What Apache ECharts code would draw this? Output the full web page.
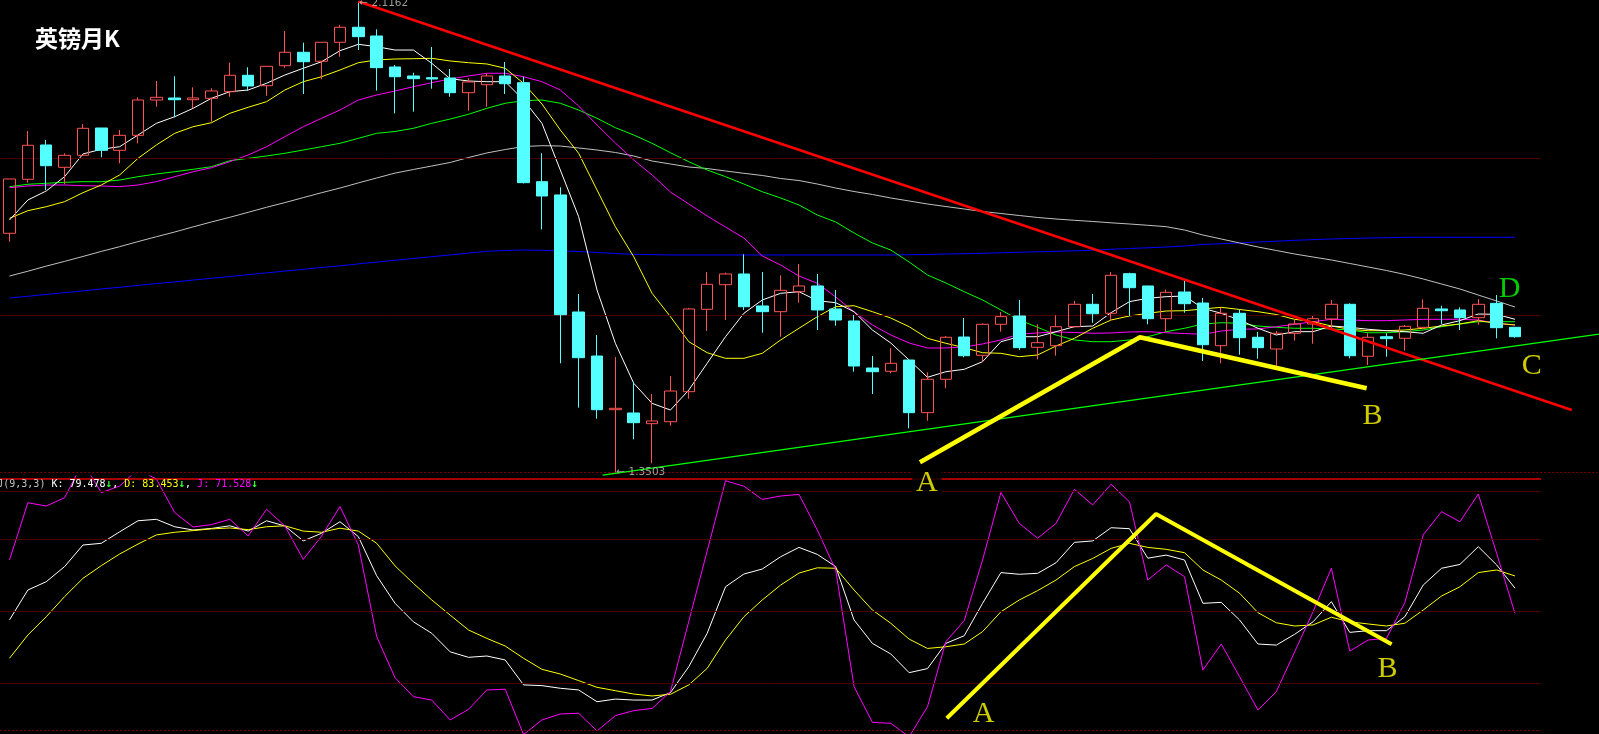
<!DOCTYPE html>
<html><head><meta charset="utf-8">
<script src="https://cdn.jsdelivr.net/npm/echarts@6/dist/echarts.min.js"></script>
<style>html,body{margin:0;padding:0;background:#000;overflow:hidden}#c{width:1599px;height:734px}</style>
</head><body><div id="c"></div>
<script>
// ---------- data ----------
const months = ['2006-04','2006-05','2006-06','2006-07','2006-08','2006-09','2006-10','2006-11','2006-12',
'2007-01','2007-02','2007-03','2007-04','2007-05','2007-06','2007-07','2007-08','2007-09','2007-10','2007-11','2007-12',
'2008-01','2008-02','2008-03','2008-04','2008-05','2008-06','2008-07','2008-08','2008-09','2008-10','2008-11','2008-12',
'2009-01','2009-02','2009-03','2009-04','2009-05','2009-06','2009-07','2009-08','2009-09','2009-10','2009-11','2009-12',
'2010-01','2010-02','2010-03','2010-04','2010-05','2010-06','2010-07','2010-08','2010-09','2010-10','2010-11','2010-12',
'2011-01','2011-02','2011-03','2011-04','2011-05','2011-06','2011-07','2011-08','2011-09','2011-10','2011-11','2011-12',
'2012-01','2012-02','2012-03','2012-04','2012-05','2012-06','2012-07','2012-08','2012-09','2012-10','2012-11','2012-12',
'2013-01','2013-02'];
const futureSlots = ['2013-03','2013-04','2013-05','2013-06'];

const opens = [1.7393,1.8271,1.8829,1.8466,1.8661,1.9105,1.8742,1.8986,1.9560,1.9593,
1.9565,1.9588,1.9695,1.9962,1.9793,2.0118,2.0336,2.0190,2.0499,2.0743,
2.0601,2.0097,1.9951,1.9923,1.9918,1.9679,1.9809,1.9951,1.9842,1.8232,
1.8016,1.6113,1.5397,1.4524,1.4471,1.4297,1.4329,1.4817,1.6157,1.6557,
1.6731,1.6211,1.6118,1.6443,1.6536,1.6162,1.5967,1.5202,1.5149,1.5332,
1.4476,1.5019,1.5706,1.5409,1.5913,1.6048,1.5539,1.5565,1.5874,1.6238,
1.6092,1.6736,1.6536,1.6004,1.6438,1.6259,1.5565,1.6092,1.5702,1.5511,
1.5767,1.5918,1.5999,1.6238,1.5393,1.5711,1.5685,1.5864,1.6162,1.6146,
1.6020,1.6254,1.5864];
const highs = [1.8276,1.9056,1.8910,1.8694,1.9170,1.9105,1.9073,1.9604,1.9869,1.9946,
1.9767,1.9751,2.0167,2.0092,2.0112,2.0682,2.0492,2.0502,2.0780,2.1162,
2.0710,2.0129,2.0004,2.0422,2.0064,1.9918,1.9988,2.0178,1.9939,1.8694,
1.8141,1.6406,1.5739,1.5381,1.4980,1.4780,1.5072,1.6178,1.6763,1.6752,
1.7051,1.6763,1.6710,1.6894,1.6731,1.6471,1.6064,1.5397,1.5523,1.5344,
1.5132,1.5723,1.6015,1.5929,1.6113,1.6308,1.5913,1.6059,1.6292,1.6406,
1.6763,1.6752,1.6540,1.6476,1.6617,1.6341,1.6178,1.6157,1.5788,1.5804,
1.5983,1.6048,1.6308,1.6254,1.5767,1.5767,1.5902,1.6320,1.6215,1.6189,
1.6324,1.6389,1.5867];
const lows = [1.7256,1.8216,1.8097,1.8190,1.8658,1.8629,1.8531,1.8856,1.9451,1.9279,
1.9425,1.9207,1.9614,1.9712,1.9630,2.0086,1.9658,1.9897,2.0264,2.0373,
1.9712,1.9344,1.9370,1.9744,1.9614,1.9386,1.9451,1.9658,1.8203,1.7455,
1.5279,1.4557,1.4378,1.3503,1.4043,1.3653,1.4264,1.4703,1.5804,1.5983,
1.6146,1.5776,1.5711,1.6264,1.5820,1.5890,1.5142,1.4780,1.5116,1.4222,
1.4345,1.4872,1.5376,1.5305,1.5793,1.5495,1.5344,1.5402,1.5864,1.5939,
1.5972,1.6048,1.5913,1.5793,1.6102,1.5316,1.5279,1.5419,1.5354,1.5224,
1.5646,1.5598,1.5820,1.5360,1.5251,1.5386,1.5484,1.5832,1.5918,1.5820,
1.5907,1.5685,1.5695];
const closes = [1.8276,1.8824,1.8492,1.8661,1.9100,1.8742,1.8986,1.9560,1.9604,1.9565,
1.9593,1.9707,1.9962,1.9788,2.0108,2.0336,2.0183,2.0499,2.0743,2.0590,
2.0086,1.9939,1.9907,1.9902,1.9679,1.9853,1.9951,1.9825,1.8216,1.7999,
1.6069,1.5370,1.4524,1.4547,1.4313,1.4341,1.4828,1.6162,1.6563,1.6731,
1.6199,1.6118,1.6466,1.6536,1.6146,1.5983,1.5235,1.5142,1.5279,1.4476,
1.5019,1.5702,1.5402,1.5913,1.6037,1.5533,1.5614,1.5874,1.6238,1.6085,
1.6710,1.6508,1.6004,1.6433,1.6248,1.5581,1.6092,1.5695,1.5533,1.5767,
1.5918,1.6004,1.6238,1.5402,1.5702,1.5679,1.5880,1.6173,1.6134,1.6020,
1.6238,1.5858,1.5711];

const ma5 = [1.7609,1.7934,1.8081,1.8313,1.8682,1.8759,1.8801,1.8991,1.9181,1.9289,
1.9425,1.9588,1.9695,1.9723,1.9832,1.9967,2.0076,2.0183,2.0362,2.0466,
2.0427,2.0373,2.0373,2.0157,1.9907,1.9869,1.9858,1.9858,1.9560,1.9181,
1.8422,1.7663,1.6471,1.5604,1.4954,1.4628,1.4519,1.4845,1.5279,1.5711,
1.6092,1.6308,1.6417,1.6443,1.6297,1.6264,1.6118,1.5820,1.5609,1.5332,
1.5051,1.5142,1.5181,1.5305,1.5630,1.5711,1.5711,1.5793,1.5874,1.5885,
1.6102,1.6281,1.6336,1.6362,1.6373,1.6173,1.6092,1.5983,1.5848,1.5739,
1.5793,1.5793,1.5885,1.5864,1.5832,1.5809,1.5793,1.5767,1.5902,1.5972,
1.6080,1.6076,1.5994];
const ma10 = [1.7637,1.7760,1.7825,1.7907,1.8053,1.8178,1.8341,1.8612,1.8829,1.9019,
1.9126,1.9191,1.9344,1.9442,1.9533,1.9723,1.9858,1.9939,2.0048,2.0167,
2.0211,2.0227,2.0232,2.0238,2.0195,2.0167,2.0146,2.0076,1.9832,1.9495,
1.9073,1.8694,1.8097,1.7500,1.7012,1.6417,1.6037,1.5630,1.5451,1.5360,
1.5360,1.5441,1.5658,1.5848,1.6037,1.6199,1.6215,1.6118,1.6015,1.5874,
1.5685,1.5604,1.5533,1.5451,1.5441,1.5386,1.5414,1.5560,1.5685,1.5848,
1.5983,1.6048,1.6092,1.6129,1.6134,1.6162,1.6189,1.6154,1.6118,1.6072,
1.5994,1.5955,1.5885,1.5832,1.5809,1.5809,1.5820,1.5848,1.5885,1.5918,
1.5972,1.5929,1.5902];
const ma20 = [1.8134,1.8162,1.8178,1.8178,1.8167,1.8162,1.8151,1.8178,1.8232,1.8313,
1.8394,1.8459,1.8557,1.8666,1.8801,1.8964,1.9126,1.9263,1.9398,1.9560,
1.9642,1.9707,1.9777,1.9842,1.9902,1.9951,1.9995,1.9995,1.9939,1.9858,
1.9723,1.9463,1.9154,1.8861,1.8585,1.8341,1.8064,1.7869,1.7674,1.7495,
1.7316,1.7024,1.6877,1.6698,1.6580,1.6357,1.6113,1.5902,1.5739,1.5609,
1.5528,1.5528,1.5544,1.5593,1.5658,1.5755,1.5772,1.5788,1.5780,1.5767,
1.5772,1.5788,1.5793,1.5776,1.5763,1.5750,1.5804,1.5832,1.5837,1.5874,
1.5913,1.5955,1.5994,1.5983,1.5972,1.5972,1.5983,1.5994,1.5994,1.5994,
1.5983,1.5929,1.5902];
const ma30 = [1.8151,1.8190,1.8206,1.8222,1.8232,1.8232,1.8259,1.8313,1.8357,1.8394,
1.8433,1.8476,1.8573,1.8612,1.8650,1.8694,1.8747,1.8801,1.8856,1.8937,
1.9019,1.9048,1.9100,1.9181,1.9251,1.9328,1.9425,1.9507,1.9549,1.9560,
1.9507,1.9398,1.9263,1.9110,1.8991,1.8856,1.8703,1.8557,1.8422,1.8313,
1.8194,1.8069,1.7967,1.7853,1.7690,1.7577,1.7398,1.7235,1.7121,1.6926,
1.6715,1.6585,1.6443,1.6308,1.6146,1.5983,1.5864,1.5739,1.5658,1.5630,
1.5630,1.5658,1.5711,1.5793,1.5848,1.5918,1.5939,1.5929,1.5885,1.5864,
1.5848,1.5848,1.5837,1.5820,1.5776,1.5776,1.5793,1.5820,1.5874,1.5918,
1.5955,1.5955,1.5955];
const ma60 = [1.6698,1.6776,1.6859,1.6936,1.7016,1.7098,1.7175,1.7258,1.7337,1.7414,
1.7497,1.7577,1.7653,1.7734,1.7816,1.7892,1.7973,1.8053,1.8129,1.8212,
1.8292,1.8372,1.8430,1.8487,1.8544,1.8625,1.8699,1.8755,1.8804,1.8817,
1.8812,1.8780,1.8747,1.8707,1.8650,1.8568,1.8520,1.8471,1.8446,1.8406,
1.8368,1.8333,1.8284,1.8251,1.8194,1.8129,1.8072,1.8024,1.7967,1.7918,
1.7869,1.7828,1.7788,1.7747,1.7715,1.7682,1.7650,1.7625,1.7604,1.7585,
1.7563,1.7544,1.7523,1.7500,1.7446,1.7365,1.7300,1.7235,1.7170,1.7113,
1.7056,1.7007,1.6959,1.6902,1.6845,1.6788,1.6723,1.6650,1.6568,1.6487,
1.6389,1.6292,1.6194];
const ma120 = [1.6341,1.6368,1.6399,1.6427,1.6456,1.6487,1.6515,1.6545,1.6575,1.6602,
1.6633,1.6661,1.6690,1.6720,1.6749,1.6778,1.6807,1.6837,1.6864,1.6895,
1.6924,1.6954,1.6983,1.7012,1.7041,1.7071,1.7100,1.7113,1.7121,1.7116,
1.7105,1.7097,1.7081,1.7064,1.7051,1.7045,1.7040,1.7040,1.7040,1.7040,
1.7040,1.7040,1.7040,1.7040,1.7040,1.7040,1.7040,1.7040,1.7040,1.7045,
1.7048,1.7056,1.7061,1.7068,1.7076,1.7084,1.7092,1.7100,1.7108,1.7118,
1.7133,1.7146,1.7157,1.7170,1.7186,1.7211,1.7224,1.7235,1.7251,1.7263,
1.7279,1.7289,1.7300,1.7308,1.7316,1.7321,1.7328,1.7328,1.7328,1.7328,
1.7328,1.7328,1.7328];

const kLine = [46.3,58.75,62.2,68.5,77.5,78.2,83,87.6,88.2,85.1,
83.75,84.4,85.5,83.3,87.6,85.4,79.2,82.4,87.2,81,
64.7,53.2,45.5,40.7,33,30.7,31.25,29.6,19.2,18.9,
17.8,17.1,12.2,13.3,12.9,12.9,16,26.8,40.7,60.1,
65.4,67.5,72.6,76.5,73.6,68.5,46.25,36.5,32.1,24.3,
26,36.5,39.7,53.2,66,65.3,65.7,70.1,78.6,79.2,
84.7,84.3,72,73.3,71.25,53.2,53.6,46.25,36.25,35.8,
40.3,45.5,53.9,41.1,41.8,41.8,47.6,60.8,67.8,69.4,
76.8,69.2,59.5];
const dLine = [30.3,40,47.6,56,63.6,68.9,73.75,77.9,81.7,82.8,
83.5,84.2,84.6,83.9,85.1,85.5,83.3,82.8,84.5,83.3,
78.2,68.8,61.5,54.6,48.3,42.1,38.6,35.4,30.3,25.7,
23.75,21,18.2,16.8,15.4,14.6,15.3,19.2,26.1,37.9,
47.6,54.6,60.8,65.8,68,67.8,58.75,50.4,44.9,38.3,
34.4,35.1,36.25,41.4,49.7,54.6,58.5,62.9,68.5,71.9,
76.1,78.2,76.5,75.7,74.3,67.1,62.9,57.4,49.3,45.1,
43.75,44.2,47.4,45.5,44.6,43.75,44.9,50.4,56.25,60.1,
66,67.1,64.6];
const jLine = [71.25,95.1,93.75,97.2,112,99.3,102.1,109,105,91,
85,86,88.2,81.25,92.4,85.4,71.5,81.25,93.5,77.5,
39.3,22.2,14.3,12.9,4.6,9,17.1,17.4,-1.5,4.6,
7.1,7.4,0,6.4,8.5,9.4,16.4,45.7,75,104.3,
102,96.5,97.9,98.6,83.75,67.1,18.5,3.6,3.2,-2.4,
10.1,37.2,46,71.25,99.4,86.5,80.3,86.5,100.7,94.2,
102.8,95.5,62.9,69.2,64.3,25.4,36.25,22.6,8.75,16.4,
33,49.7,67.8,33.3,37.9,38.6,53.5,81.7,91.4,87.2,
98.75,74,49];
const kdjLegend = {k: '79.478', d: '83.453', j: '71.528'};

// hand-drawn study lines: [month index, value]
const redTrend = [[19, 2.1162], [85.09, 1.4519]];
const greenTrend = [[32.31, 1.3459], [86.57, 1.5752]];
const priceWave = [[49.59, 1.3669], [61.57, 1.5702], [73.92, 1.4872]];
const kdjWave = [[51.05, 5.3], [62.45, 90.4], [75.28, 36.1]];
const priceNotes = [
  {text: 'B', at: [74.24, 1.4414], color: '#ffff00'},
  {text: 'C', at: [82.91, 1.5235], color: '#ffff00'},
  {text: 'D', at: [81.70, 1.6492], color: '#00ff00'}
];
const kdjNotes = [
  {text: 'A', at: [49.97, 103.3], color: '#ffff00', boxed: true},
  {text: 'A', at: [53.05, 7.1], color: '#ffff00'},
  {text: 'B', at: [75.05, 25.8], color: '#ffff00'}
];

// ---------- chart ----------
const cats = months.concat(futureSlots);
const N = cats.length;
const hiIdx = highs.indexOf(Math.max(...highs));
const loIdx = lows.indexOf(Math.min(...lows));
const pMax = highs[hiIdx], pMin = lows[loIdx];
const gridEnd = 83.42;
const candles = months.map((m, i) => [opens[i], closes[i], lows[i], highs[i]]);

function lvl(y, xEnd, color, type, width) {
  return [{coord: [-0.5, y], lineStyle: {color: color, type: type, width: width}}, {coord: [xEnd, y]}];
}
function ma(name, data, color) {
  return {name: name, type: 'line', xAxisIndex: 0, yAxisIndex: 0, data: data, symbol: 'none',
    lineStyle: {color: color, width: 1}, z: 2, silent: true};
}
function kdjSeries(name, data, color) {
  return {name: name, type: 'line', xAxisIndex: 2, yAxisIndex: 1, data: data, symbol: 'none',
    lineStyle: {color: color, width: 1}, z: 2, silent: true};
}
function notes(list, xi, yi) {
  return {type: 'scatter', xAxisIndex: xi, yAxisIndex: yi, symbolSize: 0, z: 20, silent: true, clip: false,
    data: list.map(n => ({value: n.at, name: n.text,
      label: {show: true, position: 'inside', formatter: n.text, color: n.color,
        fontFamily: 'Liberation Serif', fontSize: 30,
        backgroundColor: n.boxed ? '#000' : 'transparent', padding: n.boxed ? [0, 4] : 0}}))};
}
const range = pMax - pMin;

const chart = echarts.init(document.getElementById('c'), null, {renderer: 'canvas'});
chart.setOption({
  backgroundColor: '#000',
  animation: false,
  grid: [
    {left: 0.32, top: 1.5, width: 1597.3, height: 471, outerBoundsMode: 'none'},
    {left: 0.32, top: 476, width: 1597.3, height: 258, outerBoundsMode: 'none'}
  ],
  xAxis: [
    {type: 'category', gridIndex: 0, data: cats, boundaryGap: true, show: false},
    {type: 'value', gridIndex: 0, min: -0.5, max: N - 0.5, show: false},
    {type: 'category', gridIndex: 1, data: cats, boundaryGap: true, show: false},
    {type: 'value', gridIndex: 1, min: -0.5, max: N - 0.5, show: false}
  ],
  yAxis: [
    {type: 'value', gridIndex: 0, min: pMin, max: pMax, show: false},
    {type: 'value', gridIndex: 1, min: -1.25, max: 106.25, show: false}
  ],
  graphic: [
    {type: 'text', x: 35, y: 27, z: 50, style: {text: '英镑月K', fill: '#ffffff',
      font: 'bold 23px "Noto Sans CJK SC"'}},
    {type: 'text', x: -14.8, y: 484, z: 50, style: {
      text: '{g|KDJ(9,3,3) }{w|K: ' + kdjLegend.k + '}{a|↓}{w|, }{y|D: ' + kdjLegend.d + '}{a|↓}{w|, }{m|J: ' + kdjLegend.j + '}{a|↓}',
      verticalAlign: 'middle', font: '10px "DejaVu Sans Mono"',
      rich: {
        g: {fill: '#c0c0c0', font: '10px "DejaVu Sans Mono"'},
        w: {fill: '#ffffff', font: '10px "DejaVu Sans Mono"'},
        y: {fill: '#ffff00', font: '10px "DejaVu Sans Mono"'},
        m: {fill: '#ff00ff', font: '10px "DejaVu Sans Mono"'},
        a: {fill: '#33ff33', font: 'bold 11px "DejaVu Sans Mono"'}
      }}}
  ],
  series: [
    {type: 'line', xAxisIndex: 1, yAxisIndex: 0, data: [[-0.5, pMin]], symbol: 'none', z: 1, clip: false,
      lineStyle: {width: 0}, silent: true,
      markLine: {silent: true, symbol: ['none', 'none'], label: {show: false}, animation: false,
        data: [
          lvl(pMin + range * 2 / 3, gridEnd, '#4a0000', 'solid', 1),
          lvl(pMin + range / 3, gridEnd, '#4a0000', 'solid', 1),
          lvl(pMin, N - 0.5, '#800000', [2, 2], 1)
        ]}},
    ma('MA120', ma120, '#0000ff'),
    ma('MA60', ma60, '#c0c0c0'),
    ma('MA30', ma30, '#00ff00'),
    ma('MA20', ma20, '#ff00ff'),
    ma('MA10', ma10, '#ffff00'),
    ma('MA5', ma5, '#ffffff'),
    {name: 'K', type: 'candlestick', xAxisIndex: 0, yAxisIndex: 0, data: candles, barWidth: 12, z: 5,
      silent: true,
      itemStyle: {color: 'rgba(0,0,0,0)', color0: '#54ffff', borderColor: '#ff5252',
        borderColor0: '#54ffff', borderWidth: 1}},
    {type: 'line', xAxisIndex: 1, yAxisIndex: 0, data: redTrend, symbol: 'none', z: 6, silent: true,
      lineStyle: {color: '#ff0000', width: 2.5}},
    {type: 'line', xAxisIndex: 1, yAxisIndex: 0, data: greenTrend, symbol: 'none', z: 6, silent: true,
      clip: false, lineStyle: {color: '#00ff00', width: 1.3}},
    {type: 'line', xAxisIndex: 1, yAxisIndex: 0, data: priceWave, symbol: 'none', z: 6, silent: true,
      lineStyle: {color: '#ffff00', width: 4.5}},
    {type: 'scatter', xAxisIndex: 0, yAxisIndex: 0, symbolSize: 0, z: 20, silent: true, clip: false,
      data: [
        {value: [hiIdx, pMax], label: {offset: [0, 2]}},
        {value: [loIdx, pMin], label: {offset: [0, 0]}}
      ],
      label: {show: true, position: 'right', distance: 1, color: '#c0c0c0',
        fontFamily: 'DejaVu Sans', fontSize: 10.5,
        formatter: p => '← ' + p.value[1].toFixed(4)}},
    notes(priceNotes, 1, 0),
    {type: 'line', xAxisIndex: 3, yAxisIndex: 1, data: [[-0.5, 0]], symbol: 'none', z: 1, clip: false,
      lineStyle: {width: 0}, silent: true,
      markLine: {silent: true, symbol: ['none', 'none'], label: {show: false}, animation: false,
        data: [
          lvl(105.3, gridEnd, '#e00000', 'solid', 1.5),
          lvl(100, gridEnd, '#4a0000', 'solid', 1),
          lvl(80, gridEnd, '#4a0000', 'solid', 1),
          lvl(50, gridEnd, '#4a0000', 'solid', 1),
          lvl(20, gridEnd, '#4a0000', 'solid', 1),
          lvl(0.4, gridEnd, '#800000', [2, 2], 1)
        ]}},
    kdjSeries('K', kLine, '#ffffff'),
    kdjSeries('D', dLine, '#ffff00'),
    kdjSeries('J', jLine, '#ff00ff'),
    {type: 'line', xAxisIndex: 3, yAxisIndex: 1, data: kdjWave, symbol: 'none', z: 6, silent: true,
      lineStyle: {color: '#ffff00', width: 4}},
    notes(kdjNotes, 3, 1)
  ]
});
</script>
</body></html>
